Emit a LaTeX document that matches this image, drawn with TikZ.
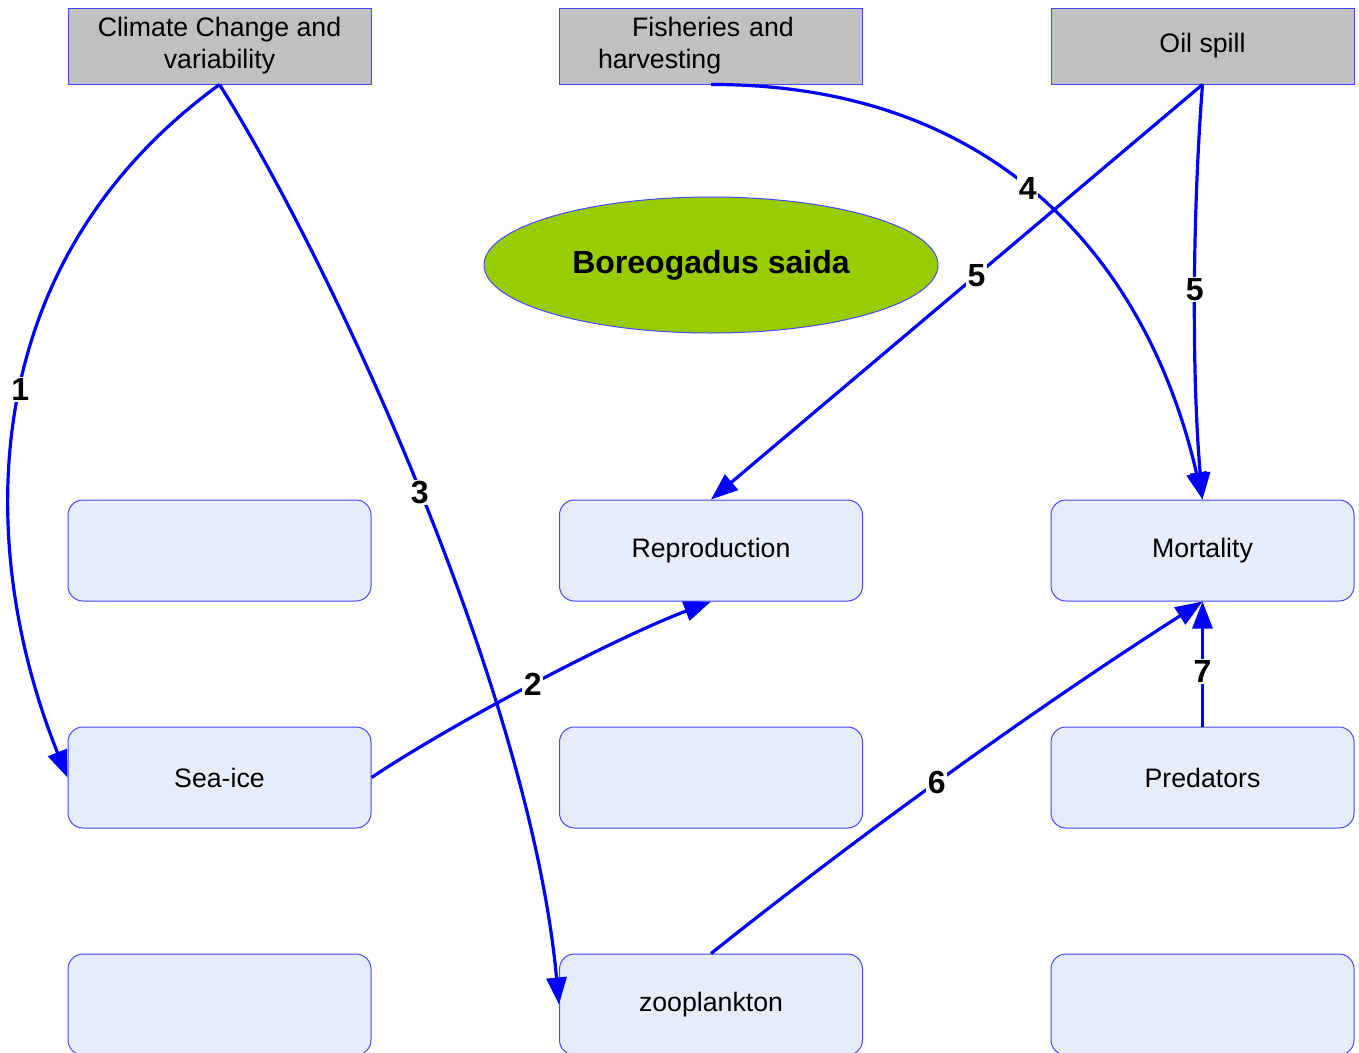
\documentclass[tikz,border=0pt]{standalone}
\usepackage{fontspec}
\setmainfont{Liberation Sans}
\usetikzlibrary{arrows.meta,shapes.geometric}
\definecolor{edgeblue}{RGB}{0,0,255}
\definecolor{boxline}{RGB}{70,70,255}
\definecolor{driverfill}{RGB}{192,192,192}
\definecolor{statefill}{RGB}{230,236,248}
\definecolor{fishfill}{RGB}{153,204,0}
\begin{document}
\begin{tikzpicture}[x=1pt,y=-1pt,
  driver/.style={draw=boxline,line width=1pt,fill=driverfill,minimum width=303pt,
    minimum height=76pt,inner sep=0pt,font=\fontsize{26.7}{32}\selectfont,align=center},
  state/.style={draw=boxline,line width=1pt,fill=statefill,rounded corners=15pt,
    minimum width=303pt,minimum height=101pt,inner sep=0pt,font=\fontsize{26.7}{32}\selectfont},
  link/.style={draw=edgeblue,line width=3.2pt,-{Triangle[length=27pt,width=20pt]}},
  num/.style={fill=white,inner sep=1.5pt,font=\fontsize{32}{32}\selectfont\bfseries}
]
\useasboundingbox (0,0) rectangle (1359,1052);

% drivers
\node[driver] (clim) at (219.5,46) {Climate Change and\\variability};
\node[driver,text width=226pt,align=left] (fish) at (711,46)
  {\hspace*{34pt}Fisheries and\\harvesting};
\node[driver] (oil) at (1202.5,46) {Oil spill};

% species
\node[ellipse,draw=boxline,line width=1pt,fill=fishfill,minimum width=454pt,
  minimum height=136pt,inner sep=0pt,font=\fontsize{32}{32}\selectfont\bfseries]
  (cod) at (711,265) {Boreogadus saida};

% state boxes
\node[state] (e11) at (219.5,550.5) {};
\node[state] (repro) at (711,550.5) {Reproduction};
\node[state] (mort) at (1202.5,550.5) {Mortality};
\node[state] (ice) at (219.5,777.5) {Sea-ice};
\node[state] (e22) at (711,777.5) {};
\node[state] (pred) at (1202.5,777.5) {Predators};
\node[state] (e31) at (219.5,1004.5) {};
\node[state] (zoo) at (711,1004.5) {zooplankton};
\node[state] (e33) at (1202.5,1004.5) {};

% links
\draw[link] (clim.south) .. controls (-35,270) and (-20,560) .. (ice.west)
  node[num,pos=0.46] (n1) {1};
\draw[link] (clim.south) .. controls (330,260) and (530,690) .. (zoo.west)
  node[num,pos=0.5] (n3) {3};
\draw[link] (ice.east) .. controls (450,725) and (610,640) .. (repro.south)
  node[num,pos=0.5] (n2) {2};
\draw[link] (fish.south) .. controls (1005,84) and (1150,270) .. (mort.north)
  node[num,pos=0.46] (n4) {4};
\draw[link] (oil.south) -- (repro.north) node[num,pos=0.46] (n5a) {5};
\draw[link] (oil.south) .. controls (1192,220) and (1192,380) .. (mort.north)
  node[num,pos=0.48] (n5b) {5};
\draw[link] (zoo.north) .. controls (871,826) and (1042,704) .. (mort.south)
  node[num,pos=0.46] (n6) {6};
\draw[link] (pred.north) -- (mort.south) node[num,pos=0.44] (n7) {7};
\end{tikzpicture}
\end{document}
